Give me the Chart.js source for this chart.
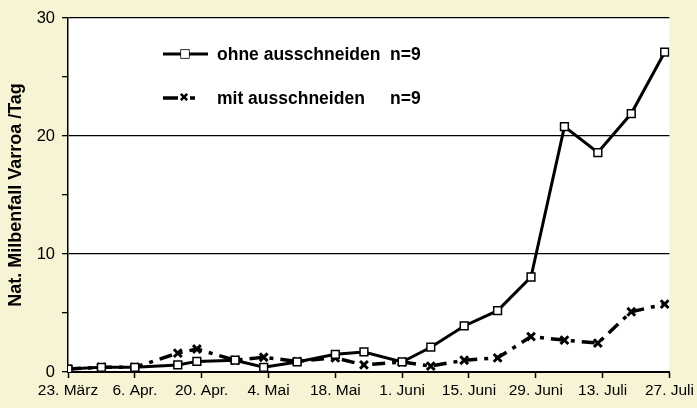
<!DOCTYPE html>
<html>
<head>
<meta charset="utf-8">
<script src="https://cdn.jsdelivr.net/npm/chart.js@4.4.1/dist/chart.umd.min.js"></script>
<style>
html, body { margin: 0; padding: 0; background: #f6f4d4; }
#wrap { width: 697px; height: 408px; position: relative; }
</style>
</head>
<body>
<div id="wrap"><canvas id="chart" width="697" height="408"></canvas></div>
<script>
// days after 23. März for each count
var days = [0, 7, 14, 23, 27, 35, 41, 48, 56, 62, 70, 76, 83, 90, 97, 104, 111, 118, 125];
var ohneValues = [0.25, 0.4, 0.4, 0.6, 0.9, 1.0, 0.4, 0.85, 1.5, 1.7, 0.85, 2.1, 3.9, 5.2, 8.05, 20.8, 18.6, 21.9, 27.1];
var mitValues = [0.25, 0.4, 0.4, 1.6, 1.95, 1.0, 1.25, 0.9, 1.2, 0.6, 0.85, 0.5, 1.0, 1.2, 3.0, 2.7, 2.45, 5.1, 5.75];
var tickLabels = ['23. März', '6. Apr.', '20. Apr.', '4. Mai', '18. Mai', '1. Juni', '15. Juni', '29. Juni', '13. Juli', '27. Juli'];
var seriesNames = ['ohne ausschneiden', 'mit ausschneiden'];
var sampleSizes = ['n=9', 'n=9'];
var yTitle = 'Nat. Milbenfall Varroa /Tag';

function toPoints(vals) {
	return vals.map(function (v, i) { return { x: days[i], y: v }; });
}

var FONT = "'Liberation Sans', Arial, sans-serif";

var plotBackground = {
	id: 'plotBackground',
	beforeDraw: function (chart) {
		var a = chart.chartArea, ctx = chart.ctx;
		ctx.save();
		ctx.fillStyle = '#ffffff';
		ctx.fillRect(a.left, a.top, a.right - a.left, a.bottom - a.top);
		ctx.restore();
	}
};

// legend drawn inside the plot like the original
var innerLegend = {
	id: 'innerLegend',
	afterDatasetsDraw: function (chart) {
		var ctx = chart.ctx;
		ctx.save();
		ctx.strokeStyle = '#000';
		ctx.lineWidth = 3;
		// ohne
		ctx.beginPath(); ctx.moveTo(163, 54); ctx.lineTo(208, 54); ctx.stroke();
		var d0 = chart.data.datasets[0];
		ctx.fillStyle = '#fff'; ctx.lineWidth = 1.5;
		Chart.helpers.drawPoint(ctx, { pointStyle: d0.pointStyle, radius: d0.pointRadius, borderWidth: 1.5, rotation: 0 }, 185, 54);
		ctx.fill();
		// mit
		ctx.lineWidth = 3.5;
		ctx.beginPath(); ctx.moveTo(163, 98); ctx.lineTo(178, 98); ctx.stroke();
		ctx.beginPath(); ctx.moveTo(190, 98); ctx.lineTo(195, 98); ctx.stroke();
		ctx.lineWidth = 2.5;
		Chart.helpers.drawPoint(ctx, { pointStyle: 'crossRot', radius: 4.5, borderWidth: 2.5, rotation: 0 }, 184, 97);
		ctx.fillStyle = '#000';
		ctx.font = 'bold 17.5px ' + FONT;
		ctx.textBaseline = 'middle';
		ctx.textAlign = 'left';
		ctx.fillText(seriesNames[0], 217, 55);
		ctx.fillText(sampleSizes[0], 390, 55);
		ctx.fillText(seriesNames[1], 217, 99);
		ctx.fillText(sampleSizes[1], 390, 99);
		ctx.restore();
	}
};

var chart = new Chart(document.getElementById('chart'), {
	type: 'line',
	data: {
		datasets: [{
			label: seriesNames[0],
			data: toPoints(ohneValues),
			borderColor: '#000',
			borderWidth: 3,
			pointStyle: 'rect',
			pointRadius: 5.5,
			pointBorderWidth: 1.5,
			pointBackgroundColor: '#fff',
			pointBorderColor: '#000',
			tension: 0
		}, {
			label: seriesNames[1],
			data: toPoints(mitValues),
			borderColor: '#000',
			borderWidth: 3.5,
			borderDash: [13, 7, 4, 7],
			pointStyle: 'crossRot',
			pointRadius: 5.5,
			pointBorderWidth: 3,
			pointBorderColor: '#000',
			tension: 0
		}]
	},
	options: {
		responsive: false,
		animation: false,
		layout: { padding: { top: 18, right: 27, left: 0, bottom: 0 } },
		plugins: {
			legend: { display: false },
			tooltip: { enabled: false }
		},
		scales: {
			x: {
				type: 'linear',
				min: 0,
				max: 126,
				afterFit: function (s) { s.height = 36; },
				ticks: {
					stepSize: 14,
					autoSkip: false,
					maxRotation: 0,
					color: '#000',
					font: { family: FONT, size: 15.5 },
					padding: 3,
					callback: function (v) { return tickLabels[Math.round(v / 14)]; }
				},
				grid: { drawOnChartArea: false, tickLength: 6, tickColor: '#000', tickWidth: 1.5 },
				border: { color: '#000', width: 2 }
			},
			y: {
				min: 0,
				max: 30,
				afterFit: function (s) { s.width = 68; },
				ticks: {
					stepSize: 5,
					color: '#000',
					font: { family: FONT, size: 16.5 },
					padding: 7,
					callback: function (v) { return v % 10 === 0 ? v : ''; }
				},
				grid: {
					color: function (c) { return (c.tick && c.tick.value > 0 && c.tick.value % 10 === 0) ? '#000' : 'rgba(0,0,0,0)'; },
					lineWidth: 1.3,
					tickLength: 6,
					tickColor: '#000'
				},
				border: { color: '#000', width: 1.5 },
				title: {
					display: true,
					text: yTitle,
					color: '#000',
					font: { family: FONT, size: 18, weight: 'bold' },
					padding: { top: 5, bottom: 0 }
				}
			}
		}
	},
	plugins: [plotBackground, innerLegend]
});
</script>
</body>
</html>
